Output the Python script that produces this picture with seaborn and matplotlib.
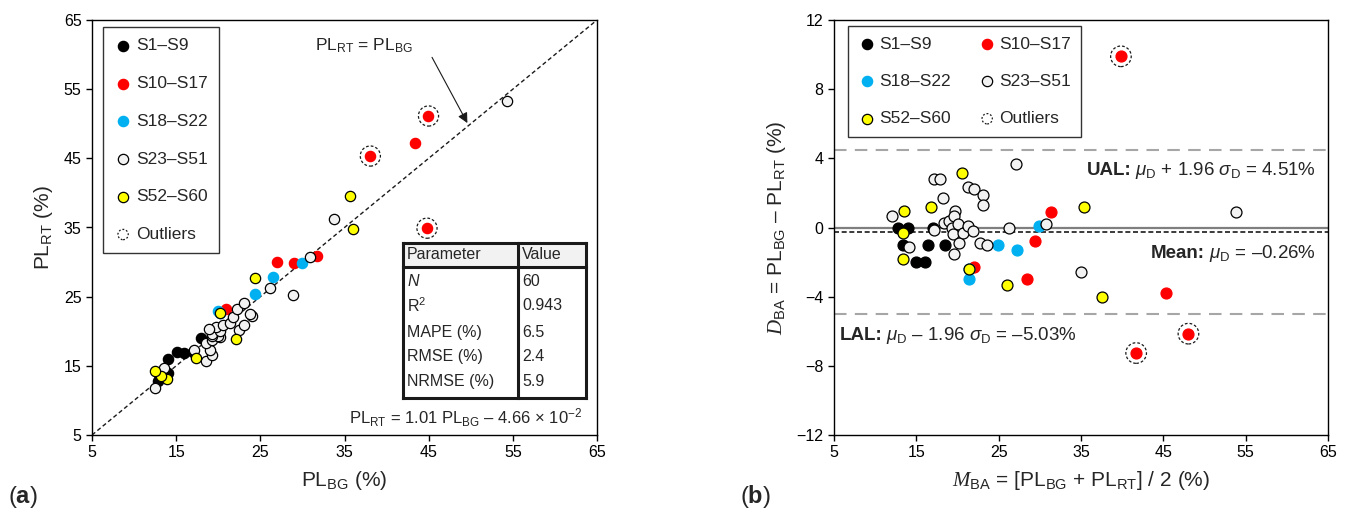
import numpy as np
import pandas as pd
import matplotlib
matplotlib.use("Agg")
import matplotlib.pyplot as plt
from matplotlib.patches import Rectangle
import seaborn as sns

# ---------------- data ----------------
group_names = ["S1–S9", "S10–S17", "S18–S22", "S23–S51", "S52–S60"]

bg_s1 = [12.8, 14.0, 12.9, 14.0, 15.05, 15.9, 17.0, 18.0, 13.3]
rt_s1 = [12.8, 14.0, 13.9, 16.0, 17.05, 16.9, 17.0, 19.0, 13.5]

bg_s10 = [31.75, 29.0, 27.0, 20.9, 43.4, 44.98, 38.07, 44.8]
rt_s10 = [30.85, 29.8, 30.0, 23.2, 47.2, 51.12, 45.33, 34.9]
out_s10 = [False, False, False, False, False, True, True, True]

bg_s18 = [24.4, 26.55, 19.95, 29.93, 20.26]
rt_s18 = [25.4, 27.85, 22.95, 29.87, 22.64]

bg_s23 = [12.44, 13.59, 18.55, 19.3, 19.05, 17.14, 18.53, 19.2, 20.17, 19.94,
          19.28, 19.23, 20.2, 19.77, 18.85, 20.56, 22.47, 23.1, 24.05, 23.76,
          21.35, 21.79, 22.25, 23.1, 26.18, 28.93, 30.9, 33.7, 54.26]
rt_s23 = [11.76, 14.71, 15.75, 16.5, 17.35, 17.27, 18.27, 18.8, 19.24, 19.26,
          19.32, 19.58, 20.0, 20.64, 20.36, 20.85, 20.14, 20.9, 22.15, 22.44,
          21.25, 22.02, 23.16, 24.1, 26.22, 25.28, 30.7, 36.3, 53.35]

bg_s52 = [13.97, 13.25, 12.5, 17.35, 22.07, 20.26, 24.35, 36.0, 35.6]
rt_s52 = [13.03, 13.55, 14.3, 16.15, 18.93, 22.64, 27.65, 34.8, 39.6]

# Bland–Altman summary values (from the annotations)
mean_d = -0.26
ual = 4.51
lal = -5.03

table_params = ["$N$", "R$^2$", "MAPE (%)", "RMSE (%)", "NRMSE (%)"]
table_values = ["60", "0.943", "6.5", "2.4", "5.9"]

# ---------------- build tables ----------------
bg_all = [bg_s1, bg_s10, bg_s18, bg_s23, bg_s52]
rt_all = [rt_s1, rt_s10, rt_s18, rt_s23, rt_s52]
rows = []
for g, bgs, rts in zip(group_names, bg_all, rt_all):
    for i, (b, r) in enumerate(zip(bgs, rts)):
        out = out_s10[i] if g == "S10–S17" else False
        rows.append(dict(group=g, BG=b, RT=r, outlier=out))
df = pd.DataFrame(rows)
df["M"] = (df["BG"] + df["RT"]) / 2.0
df["D"] = df["BG"] - df["RT"]

face = {"S1–S9": "#000000", "S10–S17": "#FF0000", "S18–S22": "#00B0F0",
        "S23–S51": "#F2F2F2", "S52–S60": "#FFFF00"}
edge = {"S1–S9": "#000000", "S10–S17": "#FF0000", "S18–S22": "#00B0F0",
        "S23–S51": "#000000", "S52–S60": "#000000"}

# ---------------- style ----------------
sns.set_theme(style="white")
plt.rcParams["font.family"] = ["Liberation Sans", "DejaVu Sans"]
plt.rcParams["mathtext.fontset"] = "custom"
plt.rcParams["mathtext.rm"] = "Liberation Sans"
plt.rcParams["mathtext.it"] = "Liberation Sans:italic"
plt.rcParams["mathtext.bf"] = "Liberation Sans:bold"
plt.rcParams["mathtext.sf"] = "Liberation Serif:italic"

fig = plt.figure(figsize=(13.52, 5.15), dpi=100)
axA = fig.add_axes([92 / 1352, 80 / 515, 505 / 1352, 415 / 515])
axB = fig.add_axes([834 / 1352, 80 / 515, 494 / 1352, 415 / 515])

ring_ls = (0, (2.2, 1.6))


def style_axes(ax):
    for s in ax.spines.values():
        s.set_visible(True)
        s.set_color("#000000")
        s.set_linewidth(1.0)
    ax.tick_params(direction="out", length=4, width=1, colors="#000000",
                   labelsize=11.5, bottom=True, left=True)
    ax.grid(False)
    ax.set_facecolor("white")


def draw_points(ax, xcol, ycol, s, ring_s):
    for g in group_names:
        sub = df[df["group"] == g]
        sns.scatterplot(data=sub, x=xcol, y=ycol, ax=ax, color=face[g],
                        edgecolor=edge[g], linewidth=0.9, s=s, legend=False,
                        zorder=3)
    o = df[df["outlier"]]
    ax.scatter(o[xcol], o[ycol], s=ring_s, facecolors="none", edgecolors="k",
               linewidths=0.9, linestyles=ring_ls, zorder=4)


def legend_handles(ax):
    hs = []
    for g in group_names:
        hs.append(ax.scatter([], [], s=55, color=face[g], edgecolors=edge[g],
                             linewidths=0.9, label=g))
    hs.append(ax.scatter([], [], s=55, facecolors="none", edgecolors="k",
                         linewidths=0.9, linestyles=(0, (1.5, 1.5)),
                         label="Outliers"))
    return hs


# ---------------- panel (a) ----------------
ax = axA
style_axes(ax)
ax.plot([5, 65], [5, 65], color="k", lw=1.0, ls=(0, (3, 2)), zorder=2)
draw_points(ax, "BG", "RT", 55, 210)
ax.set_xlim(5, 65)
ax.set_ylim(5, 65)
ax.set_xticks(range(5, 66, 10))
ax.set_yticks(range(5, 66, 10))
ax.set_xlabel(r"PL$_{\mathrm{BG}}$ (%)", fontsize=15, labelpad=6)
ax.set_ylabel(r"PL$_{\mathrm{RT}}$ (%)", fontsize=15, labelpad=6)

hs = legend_handles(ax)
leg = ax.legend(handles=hs, loc="upper left", bbox_to_anchor=(0.022, 0.983),
                borderaxespad=0, fontsize=12.5, frameon=True, fancybox=False,
                edgecolor="#000000", labelspacing=1.3, handletextpad=0.25,
                handlelength=1.0, borderpad=0.65, scatterpoints=1)
leg.get_frame().set_linewidth(1.0)

ax.text(37.3, 61.3, r"PL$_{\mathrm{RT}}$ = PL$_{\mathrm{BG}}$", ha="center",
        va="center", fontsize=12.5, zorder=5)
ax.annotate("", xy=(49.6, 50.1), xytext=(45.4, 59.6),
            arrowprops=dict(arrowstyle="-|>", color="k", lw=0.8,
                            mutation_scale=15, shrinkA=0, shrinkB=0), zorder=5)

ax.text(0.970, 0.041,
        r"PL$_{\mathrm{RT}}$ = 1.01 PL$_{\mathrm{BG}}$ – 4.66 × 10$^{-2}$",
        transform=ax.transAxes, ha="right", va="center", fontsize=12)

# table
x0, x1, x2 = 0.616, 0.8436, 0.978
y0, yh, y1 = 0.089, 0.405, 0.4627
ax.add_patch(Rectangle((x0, y0), x2 - x0, y1 - y0, transform=ax.transAxes,
                       facecolor="white", edgecolor="none", zorder=6))
ax.add_patch(Rectangle((x0, yh), x2 - x0, y1 - yh, transform=ax.transAxes,
                       facecolor="#F2F2F2", edgecolor="none", zorder=6))
for xs, ys in [([x0, x2], [y0, y0]), ([x0, x2], [y1, y1]), ([x0, x0], [y0, y1]),
               ([x2, x2], [y0, y1]), ([x1, x1], [y0, y1]), ([x0, x2], [yh, yh])]:
    ax.plot(xs, ys, transform=ax.transAxes, color="k", lw=2.2,
            solid_capstyle="projecting", zorder=7, clip_on=False)
ax.text(x0 + 0.008, (yh + y1) / 2, "Parameter", transform=ax.transAxes,
        ha="left", va="center", fontsize=11.5, zorder=8)
ax.text(x1 + 0.008, (yh + y1) / 2, "Value", transform=ax.transAxes,
        ha="left", va="center", fontsize=11.5, zorder=8)
row_y = [0.371, 0.311, 0.246, 0.188, 0.128]
for ry, p, v in zip(row_y, table_params, table_values):
    ax.text(x0 + 0.008, ry, p, transform=ax.transAxes, ha="left", va="center",
            fontsize=11.5, zorder=8)
    ax.text(x1 + 0.008, ry, v, transform=ax.transAxes, ha="left", va="center",
            fontsize=11.5, zorder=8)

# ---------------- panel (b) ----------------
ax = axB
style_axes(ax)
ax.axhline(0, color="#7F7F7F", lw=1.6, zorder=1)
ax.axhline(mean_d, color="k", lw=1.2, ls=(0, (3, 1.6)), zorder=1)
ax.axhline(ual, color="#A6A6A6", lw=1.5, ls=(0, (6, 4)), zorder=1)
ax.axhline(lal, color="#A6A6A6", lw=1.5, ls=(0, (6, 4)), zorder=1)
draw_points(ax, "M", "D", 62, 220)
ax.set_xlim(5, 65)
ax.set_ylim(-12, 12)
ax.set_xticks(range(5, 66, 10))
ax.set_yticks(range(-12, 13, 4))
ax.set_xlabel(r"$\mathsf{M}_{\mathrm{BA}}$ = [PL$_{\mathrm{BG}}$ + PL$_{\mathrm{RT}}$] / 2 (%)",
              fontsize=15, labelpad=6)
ax.set_ylabel(r"$\mathsf{D}_{\mathrm{BA}}$ = PL$_{\mathrm{BG}}$ – PL$_{\mathrm{RT}}$ (%)",
              fontsize=15, labelpad=6)

hs = legend_handles(ax)
order = [hs[0], hs[2], hs[4], hs[1], hs[3], hs[5]]
leg = ax.legend(handles=order, loc="upper left", bbox_to_anchor=(0.028, 0.9855),
                borderaxespad=0, fontsize=12.5, frameon=True, fancybox=False,
                edgecolor="#000000", ncol=2, labelspacing=1.28,
                handletextpad=0.2, handlelength=1.0, borderpad=0.6,
                columnspacing=1.6, scatterpoints=1)
leg.get_frame().set_linewidth(1.0)

# Limits-of-agreement annotations: bold prefix + mathtext body
tr = ax.get_yaxis_transform()
ann_fs = 13.5
fig.canvas.draw()
renderer = fig.canvas.get_renderer()


def right_label(y, bold, body):
    t = ax.text(0.976, y, body, transform=tr, ha="right", va="baseline",
                fontsize=ann_fs)
    bb = t.get_window_extent(renderer=renderer)
    xa = ax.transAxes.inverted().transform((bb.x0 - 4, 0))[0]
    ax.text(xa, y, bold, transform=tr, ha="right", va="baseline",
            fontsize=ann_fs, fontweight="bold")


def left_label(y, bold, body):
    t = ax.text(0.011, y, bold, transform=tr, ha="left", va="baseline",
                fontsize=ann_fs, fontweight="bold")
    bb = t.get_window_extent(renderer=renderer)
    xa = ax.transAxes.inverted().transform((bb.x1 + 4, 0))[0]
    ax.text(xa, y, body, transform=tr, ha="left", va="baseline",
            fontsize=ann_fs)


right_label(3.06, "UAL:", r"$\mu_{\mathrm{D}}$ + 1.96 $\sigma_{\mathrm{D}}$ = 4.51%")
right_label(-1.79, "Mean:", r"$\mu_{\mathrm{D}}$ = –0.26%")
left_label(-6.49, "LAL:", r"$\mu_{\mathrm{D}}$ – 1.96 $\sigma_{\mathrm{D}}$ = –5.03%")

fig.text(0.006, 0.035, r"($\mathbf{a}$)", fontsize=17, va="center")
fig.text(0.547, 0.035, r"($\mathbf{b}$)", fontsize=17, va="center")

fig.savefig("out.png", dpi=100, facecolor="white")
